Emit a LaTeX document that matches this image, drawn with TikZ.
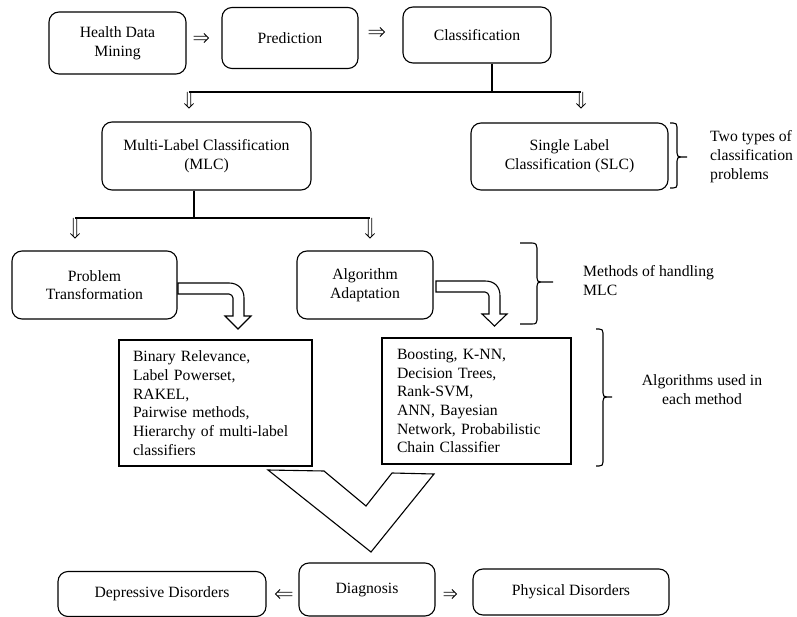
\documentclass[tikz,border=0pt]{standalone}
\usepackage{fontspec}
\setmainfont{Liberation Serif}
\usetikzlibrary{calc}
\tikzset{
  base/.style={draw, line width=1.1pt, inner sep=0pt, align=center,
    font=\fontsize{15.7}{18.7}\selectfont},
  rbox/.style={base, rounded corners=10pt},
  sbox/.style={base, align=left, inner xsep=14pt},
  lab/.style={inner sep=0pt, font=\fontsize{15.7}{19}\selectfont},
  dar/.style={line width=0.8pt, line cap=butt, to path={
      ($(\tikztostart)!1.7pt!90:(\tikztotarget)$) -- ($(\tikztotarget)!1.5pt!(\tikztostart)!1.7pt!-90:(\tikztostart)$)
      ($(\tikztostart)!1.7pt!-90:(\tikztotarget)$) -- ($(\tikztotarget)!1.5pt!(\tikztostart)!1.7pt!90:(\tikztostart)$)
      ($(\tikztotarget)!4.5pt!(\tikztostart)!4.6pt!90:(\tikztostart)$) -- (\tikztotarget)
      -- ($(\tikztotarget)!4.5pt!(\tikztostart)!4.6pt!-90:(\tikztostart)$)}},
  tree/.style={line width=1.1pt},
  block/.style={draw, fill=white, line width=1.1pt, line join=miter},
  brc/.style={line width=1.1pt},
}
\begin{document}
\begin{tikzpicture}[x=1pt,y=-1pt]
\useasboundingbox (0,0) rectangle (797,617);

% top row
\node[rbox, minimum width=137pt, minimum height=62pt] (hdm) at (117.5,43) {Health Data\\Mining};
\node[rbox, minimum width=136pt, minimum height=61pt] (pred) at (290,38) {Prediction};
\node[rbox, minimum width=148pt, minimum height=56pt] (cls) at (477,35) {Classification};

\draw[dar] ([xshift=7pt]hdm.east |- pred.west) to ([xshift=-13pt]pred.west);
\draw[dar] ([xshift=10pt,yshift=3pt]pred.east |- cls.west) to ([xshift=-18pt,yshift=3pt]cls.west);

% second row
\node[rbox, minimum width=209pt, minimum height=68pt] (mlc) at (206.5,156) {Multi-Label Classification\\(MLC)};
\node[rbox, minimum width=197pt, minimum height=67pt] (slc) at (569.5,156.5) {Single Label\\Classification (SLC)};

\coordinate (j1) at (492,92);
\coordinate (j1l) at (189,92);
\coordinate (j1r) at (581,92);
\draw[tree] (cls.south -| j1) -- (j1);
\draw[tree] (j1l) -- (j1r);
\draw[dar] (j1l) to ([yshift=-16pt]j1l);
\draw[dar] (j1r) to ([yshift=-16pt]j1r);

\draw[brc] (670,123) -- (673,123) .. controls (676,123) and (677,124) .. (677,127) -- (677,153)
  .. controls (677,156) and (678,157) .. (681,157) -- (687,157)
  (681,157) .. controls (678,157) and (677,158) .. (677,161) -- (677,185)
  .. controls (677,187) and (676,188) .. (673,188) -- (670,188);
\node[lab, anchor=west, align=left] (two) at (710,157) {Two types of\\classification\\problems};

% third row
\node[rbox, minimum width=165pt, minimum height=68pt] (pt) at (94.5,285) {Problem\\Transformation};
\node[rbox, minimum width=136pt, minimum height=68pt] (aa) at (365,285) {Algorithm\\Adaptation};

\coordinate (j2) at (194,218);
\coordinate (j2l) at (75,218);
\coordinate (j2r) at (370,218);
\draw[tree] (mlc.south -| j2) -- (j2);
\draw[tree] (j2l) -- (j2r);
\draw[dar] (j2l) to ([yshift=-20pt]j2l);
\draw[dar] (j2r) to ([yshift=-20pt]j2r);

\draw[brc] (520,243) -- (532,243) .. controls (536,243) and (537,245) .. (537,248) -- (537,278)
  .. controls (537,281) and (538,282) .. (541,282) -- (553,282)
  (541,282) .. controls (538,282) and (537,283) .. (537,286) -- (537,320)
  .. controls (537,323) and (536,324) .. (532,324) -- (520,324);
\node[lab, anchor=west, align=left] (meth) at (583,280.5) {Methods of handling\\MLC};

% bent block arrows
\draw[block] (178,283) -- (229,283) .. controls (238,283) and (244,289) .. (244,298)
  -- (244,316) -- (251,316) -- (238,329) -- (225,316) -- (233,316) -- (233,298)
  .. controls (233,296) and (231,294) .. (229,294) -- (178,294) -- cycle;
\draw[block] (436,281) -- (485,281) .. controls (495,281) and (500,287) .. (500,296)
  -- (500,314) -- (507,314) -- (494.5,326) -- (482,314) -- (489,314) -- (489,296)
  .. controls (489,294) and (487,292) .. (485,292) -- (436,292) -- cycle;

% fourth row
\node[sbox, text width=165pt, minimum height=126pt] (br) at (215.5,403)
  {Binary Relevance,\\Label Powerset,\\RAKEL,\\Pairwise methods,\\Hierarchy of multi-label\\classifiers};
\node[sbox, inner xsep=15pt, text width=159pt, minimum height=126pt] (bo) at (476.5,401)
  {Boosting, K-NN,\\Decision Trees,\\Rank-SVM,\\ANN, Bayesian\\Network, Probabilistic\\Chain Classifier};

\draw[brc] (596,329) -- (599,329) .. controls (602,329) and (603,330) .. (603,333) -- (603,393)
  .. controls (603,396) and (604,397) .. (607,397) -- (612,397)
  (607,397) .. controls (604,397) and (603,398) .. (603,401) -- (603,462)
  .. controls (603,465) and (602,466) .. (599,466) -- (596,466);
\node[lab, align=center] (alg) at (702,389.5) {Algorithms used in\\each method};

% big V arrow
\draw[block] (268,470) -- (324,471) -- (366,506) -- (392,473) -- (434,474) -- (371,552) -- cycle;

% bottom row
\node[rbox, minimum width=208pt, minimum height=45pt] (dep) at (162,594) {Depressive Disorders};
\node[rbox, minimum width=136pt, minimum height=53pt] (dia) at (367,589.5) {Diagnosis};
\node[rbox, minimum width=196pt, minimum height=46pt] (phy) at (571,592) {Physical Disorders};

\draw[dar] ([xshift=-6pt]dia.west |- dep.east) to ([xshift=9pt]dep.east);
\draw[dar] ([xshift=8pt,yshift=-2pt]dia.east |- phy.west) to ([xshift=-16pt,yshift=-2pt]phy.west);
\end{tikzpicture}
\end{document}
